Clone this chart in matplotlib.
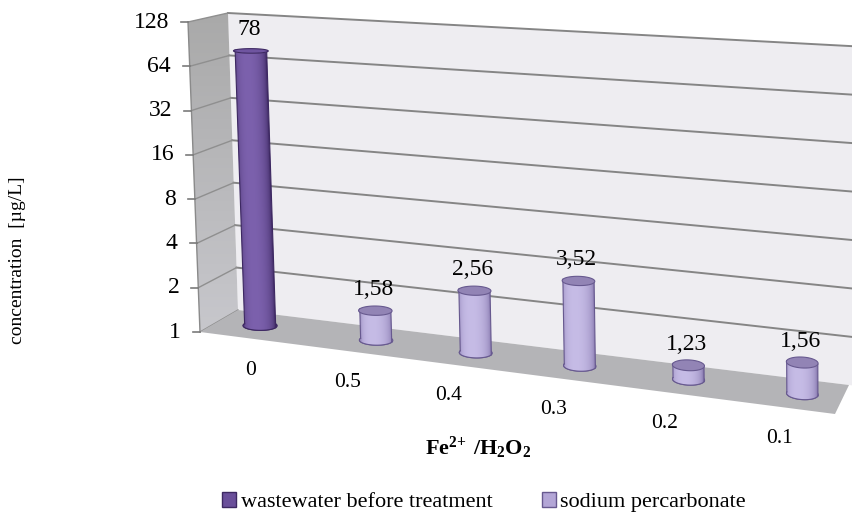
import numpy as np
import matplotlib
matplotlib.use("Agg")
import matplotlib.pyplot as plt
from matplotlib.patches import Polygon, Patch

plt.rcParams['font.family'] = ['Liberation Serif', 'DejaVu Serif']
plt.rcParams['mathtext.fontset'] = 'custom'
plt.rcParams['mathtext.rm'] = 'Liberation Serif'
plt.rcParams['mathtext.bf'] = 'Liberation Serif:bold'

# data
categories = ['0', '0.5', '0.4', '0.3', '0.2', '0.1']
wastewater = [78, None, None, None, None, None]
percarbonate = [None, 1.58, 2.56, 3.52, 1.23, 1.56]
series_names = ['wastewater before treatment', 'sodium percarbonate']
y_ticks = [1, 2, 4, 8, 16, 32, 64, 128]

# page size in pixels, screen corners of the 3-D plot box
W, H = 853, 515
FLB, FRB = np.array([200., 332.]), np.array([835., 414.])
BLB, BRB = np.array([238., 310.]), np.array([849., 385.])
FLT, FRT = np.array([188., 22.]), np.array([833., 62.])
BLT, BRT = np.array([228., 13.]), np.array([849., 46.])
FORESHORTEN = 1.14
N_OCT = np.log2(y_ticks[-1])
WALL_END = 1.007   # back wall runs slightly past the floor


def lerp(a, b, f):
    return a + (b - a) * f


def proj(t, v, w):
    t = np.asarray(t, float)[..., None]
    v = np.asarray(v, float)[..., None]
    w = np.asarray(w, float)[..., None]
    bot = lerp(lerp(FLB, FRB, t), lerp(BLB, BRB, t), v)
    top = lerp(lerp(FLT, FRT, t), lerp(BLT, BRT, t), v)
    p = lerp(bot, top, w)
    return p[..., 0], p[..., 1]


def cat_t(pos):
    u = (pos + 0.5) / len(categories)
    return u / (FORESHORTEN - (FORESHORTEN - 1) * u)


def height(val):
    return np.log2(val) / N_OCT


def rgb(c):
    return np.array(matplotlib.colors.to_rgb(c))


fig = plt.figure(figsize=(W / 100, H / 100), dpi=100)
ax = fig.add_axes([0, 0, 1, 1])
ax.set_xlim(0, W)
ax.set_ylim(H, 0)
ax.axis('off')

# walls and floor
def face(pts, **kw):
    x, y = proj(*np.array(pts).T)
    p = Polygon(np.c_[x, y], closed=True, **kw)
    ax.add_patch(p)
    return p

face([(0, 1, 0), (WALL_END, 1, 0), (WALL_END, 1, 1), (0, 1, 1)], fc='#eeedf1', ec='none', zorder=1)
left = face([(0, 0, 0), (0, 1, 0), (0, 1, 1), (0, 0, 1)], fc='none', ec='none', zorder=1)
grad = np.linspace(0, 1, 100)[:, None]
im = ax.imshow(grad, cmap=matplotlib.colors.LinearSegmentedColormap.from_list(
    'wall', ['#a9a9a9', '#c8c8cd']), extent=(180, 245, 340, 10), aspect='auto', zorder=1)
im.set_clip_path(left)
face([(0, 0, 0), (1, 0, 0), (1, 1, 0), (0, 1, 0)], fc='#b4b4b7', ec='none', zorder=2)

# gridlines, ticks and tick labels
for val in y_ticks:
    w = height(val)
    x, y = proj([0, WALL_END], [1, 1], [w, w])
    if val > 1:
        ax.plot(x, y, color='#858585', lw=1.4, zorder=1.5)
    x, y = proj([0, 0], [0, 1], [w, w])
    ax.plot(x, y, color='#8f8f8f', lw=1.0, zorder=1.5)
    ax.plot([x[0] - 7, x[0]], [y[0], y[0]], color='#7a7a7a', lw=1.2, zorder=3)
    ax.text(x[0] - 19, y[0], str(val), ha='right', va='center', fontsize=17)

# front-left edge of the side wall
x, y = proj([0, 0], [0, 0], [0, 1])
ax.plot(x, y, color='#8a8a8a', lw=1.0, zorder=2)

# category labels under the front edge
for i, lab in enumerate(categories):
    x, y = proj(cat_t(i), 0, 0)
    ax.text(x + 4, y + 32, lab, ha='center', va='center', fontsize=15.5)

# cylinders
styles = [
    dict(dark='#3d2862', light='#7c61ad', top='#6f55a0', edge='#3d2862', offset=-0.06),
    dict(dark='#8071a8', light='#c6bce6', top='#9284b5', edge='#67598f', offset=0.16),
]
RT, RV, DEPTH = 0.025, 0.19, 0.52


def cylinder(pos, val, st, z):
    tc = cat_t(pos + st['offset'])
    w = height(val)
    full = np.linspace(0, 2 * np.pi, 121)
    front = np.linspace(np.pi, 2 * np.pi, 61)
    bx, by = proj(tc + RT * np.cos(full), DEPTH + RV * np.sin(full), np.zeros_like(full))
    ax.add_patch(Polygon(np.c_[bx, by], fc=st['dark'], ec=st['edge'], lw=0.8, zorder=z))

    # side surface: shaded image clipped to the body outline
    fbx, fby = proj(tc + RT * np.cos(front), DEPTH + RV * np.sin(front), np.zeros_like(front))
    ftx, fty = proj(tc + RT * np.cos(front), DEPTH + RV * np.sin(front), np.full_like(front, w))
    body = Polygon(np.r_[np.c_[fbx, fby], np.c_[ftx, fty][::-1]], closed=True,
                   fc='none', ec='none', zorder=z + 0.1)
    ax.add_patch(body)
    bcx, bcy = proj(tc, DEPTH, 0)
    tcx, tcy = proj(tc, DEPTH, w)
    r = (fbx[-1] - fbx[0]) / 2
    x0, x1 = min(fbx.min(), ftx.min()) - 2, max(fbx.max(), ftx.max()) + 2
    y0, y1 = min(fty.min(), fby.min()) - 2, max(fty.max(), fby.max()) + 2
    gx, gy = np.meshgrid(np.linspace(x0, x1, 120), np.linspace(y0, y1, 300))
    frac = np.clip((gy - bcy) / (tcy - bcy), 0, 1)
    xc = bcx + (tcx - bcx) * frac
    theta = 2 * np.pi - np.arccos(np.clip((gx - xc) / r, -1, 1))
    s = np.clip(np.cos(theta - 1.42 * np.pi), 0, 1) ** 0.7
    img = rgb(st['dark']) + (rgb(st['light']) - rgb(st['dark'])) * s[..., None]
    bim = ax.imshow(img, extent=(x0, x1, y1, y0), aspect='auto', zorder=z + 0.1,
                    interpolation='bilinear')
    bim.set_clip_path(body)

    ax.plot([fbx[0], ftx[0]], [fby[0], fty[0]], color=st['edge'], lw=0.8, zorder=z + 0.2)
    ax.plot([fbx[-1], ftx[-1]], [fby[-1], fty[-1]], color=st['edge'], lw=0.8, zorder=z + 0.2)
    ax.plot(fbx, fby, color=st['edge'], lw=0.8, zorder=z + 0.2)
    tx, ty = proj(tc + RT * np.cos(full), DEPTH + RV * np.sin(full), np.full_like(full, w))
    ax.add_patch(Polygon(np.c_[tx, ty], fc=st['top'], ec=st['edge'], lw=0.8, zorder=z + 0.3))
    label = f"{val:g}".replace('.', ',')
    ax.text(tcx - 2, tcy - 21, label, ha='center', va='center', fontsize=17, zorder=z + 0.4)


for s_idx, series in enumerate([wastewater, percarbonate]):
    for i, val in enumerate(series):
        if val is not None:
            cylinder(i, val, styles[s_idx], 4 + i)

# axis titles
ax.text(478, 448, r'$\mathbf{Fe^{2{+}}\ /H_{2}O_{2}}$', ha='center', va='center', fontsize=16)
ax.text(18, 260, 'concentration  [µg/L]', rotation=90, ha='center', va='center', fontsize=14)

handles = [Patch(fc='#6a4f9a', ec='#3d2862'), Patch(fc='#b3a6d6', ec='#67598f')]
fig.legend(handles, series_names, loc='center', bbox_to_anchor=(484 / W, 1 - 502 / H),
           ncol=2, frameon=False, fontsize=16, handlelength=0.65, handleheight=0.65,
           handletextpad=0.2, columnspacing=2.2, borderpad=0)

fig.savefig('out.png', dpi=100)
